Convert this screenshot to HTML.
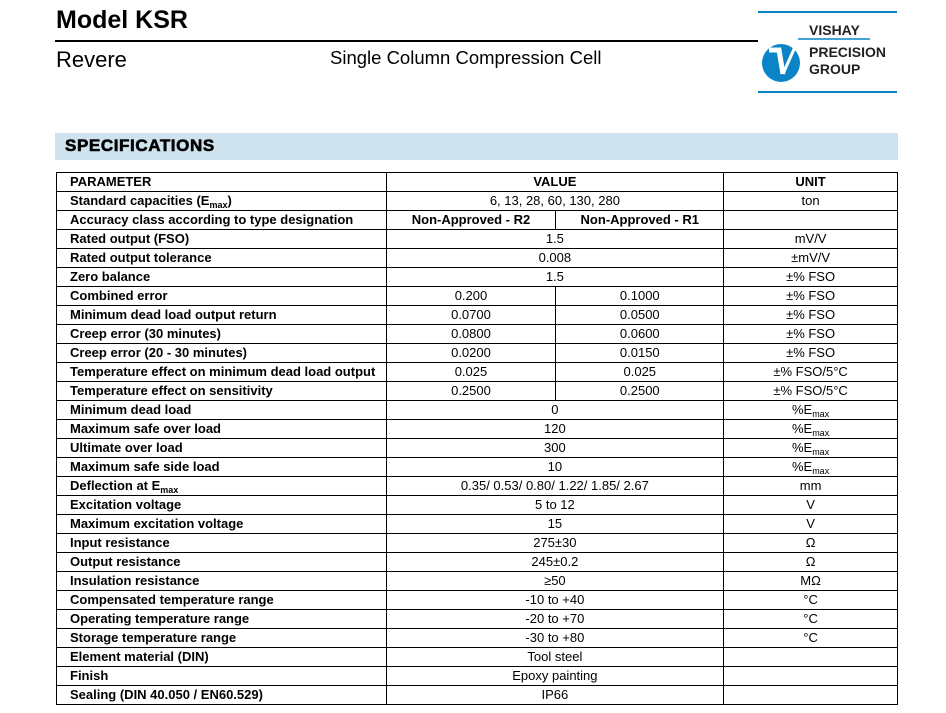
<!DOCTYPE html><html><head><style>
body{margin:0;width:946px;height:713px;background:#fff;font-family:"Liberation Sans",Arial,sans-serif;position:relative;overflow:hidden}
.a{position:absolute}
table{position:absolute;left:56px;top:172px;width:842px;border-collapse:collapse;font-size:13px;color:#000}
td{border:1px solid #000;height:18px;padding:0;line-height:18px;text-align:center}
td.p{text-align:left;padding-left:13px;font-weight:bold}
sub{font-size:9px;vertical-align:-3px;line-height:0}
</style></head><body>
<div class="a" style="left:56px;top:6px;font-size:25px;font-weight:bold">Model KSR</div>
<div class="a" style="left:55px;top:40px;width:703px;height:2px;background:#000"></div>
<div class="a" style="left:56px;top:47px;font-size:22px">Revere</div>
<div class="a" style="left:330px;top:47px;font-size:18.5px">Single Column Compression Cell</div>
<div class="a" style="left:758px;top:11px;width:139px;height:2px;background:#0a84c6"></div>
<div class="a" style="left:758px;top:91px;width:139px;height:2px;background:#0a84c6"></div>
<div class="a" style="left:809px;top:22px;font-size:14px;font-weight:bold;color:#222">VISHAY</div>
<div class="a" style="left:809px;top:44px;font-size:14px;font-weight:bold;color:#222;line-height:17px">PRECISION<br>GROUP</div>
<svg class="a" style="left:760px;top:38px" width="140" height="46"><circle cx="21" cy="25" r="19" fill="#0a84c6"/><path d="M9 12 L19 12 L23 36" stroke="#fff" stroke-width="5" fill="none"/><path d="M23 36 L38 2" stroke="#fff" stroke-width="3" fill="none"/><path d="M38 1 L110 1" stroke="#0a84c6" stroke-width="1.5"/></svg>
<div class="a" style="left:55px;top:133px;width:843px;height:27px;background:#cfe3ef"></div>
<div class="a" style="left:65px;top:136px;font-size:17px;font-weight:900;letter-spacing:0.6px;-webkit-text-stroke:0.6px #000">SPECIFICATIONS</div>
<table>
<colgroup><col style="width:330px"><col style="width:170px"><col style="width:168px"><col style="width:174px"></colgroup>
<tr><td class="p">PARAMETER</td><td colspan="2"><b>VALUE</b></td><td><b>UNIT</b></td></tr>
<tr><td class="p">Standard capacities (E<sub>max</sub>)</td><td colspan="2">6, 13, 28, 60, 130, 280</td><td>ton</td></tr>
<tr><td class="p">Accuracy class according to type designation</td><td><b>Non-Approved - R2</b></td><td><b>Non-Approved - R1</b></td><td></td></tr>
<tr><td class="p">Rated output (FSO)</td><td colspan="2">1.5</td><td>mV/V</td></tr>
<tr><td class="p">Rated output tolerance</td><td colspan="2">0.008</td><td>±mV/V</td></tr>
<tr><td class="p">Zero balance</td><td colspan="2">1.5</td><td>±% FSO</td></tr>
<tr><td class="p">Combined error</td><td>0.200</td><td>0.1000</td><td>±% FSO</td></tr>
<tr><td class="p">Minimum dead load output return</td><td>0.0700</td><td>0.0500</td><td>±% FSO</td></tr>
<tr><td class="p">Creep error (30 minutes)</td><td>0.0800</td><td>0.0600</td><td>±% FSO</td></tr>
<tr><td class="p">Creep error (20 - 30 minutes)</td><td>0.0200</td><td>0.0150</td><td>±% FSO</td></tr>
<tr><td class="p">Temperature effect on minimum dead load output</td><td>0.025</td><td>0.025</td><td>±% FSO/5°C</td></tr>
<tr><td class="p">Temperature effect on sensitivity</td><td>0.2500</td><td>0.2500</td><td>±% FSO/5°C</td></tr>
<tr><td class="p">Minimum dead load</td><td colspan="2">0</td><td>%E<sub>max</sub></td></tr>
<tr><td class="p">Maximum safe over load</td><td colspan="2">120</td><td>%E<sub>max</sub></td></tr>
<tr><td class="p">Ultimate over load</td><td colspan="2">300</td><td>%E<sub>max</sub></td></tr>
<tr><td class="p">Maximum safe side load</td><td colspan="2">10</td><td>%E<sub>max</sub></td></tr>
<tr><td class="p">Deflection at E<sub>max</sub></td><td colspan="2">0.35/ 0.53/ 0.80/ 1.22/ 1.85/ 2.67</td><td>mm</td></tr>
<tr><td class="p">Excitation voltage</td><td colspan="2">5 to 12</td><td>V</td></tr>
<tr><td class="p">Maximum excitation voltage</td><td colspan="2">15</td><td>V</td></tr>
<tr><td class="p">Input resistance</td><td colspan="2">275±30</td><td>Ω</td></tr>
<tr><td class="p">Output resistance</td><td colspan="2">245±0.2</td><td>Ω</td></tr>
<tr><td class="p">Insulation resistance</td><td colspan="2">≥50</td><td>MΩ</td></tr>
<tr><td class="p">Compensated temperature range</td><td colspan="2">-10 to +40</td><td>°C</td></tr>
<tr><td class="p">Operating temperature range</td><td colspan="2">-20 to +70</td><td>°C</td></tr>
<tr><td class="p">Storage temperature range</td><td colspan="2">-30 to +80</td><td>°C</td></tr>
<tr><td class="p">Element material (DIN)</td><td colspan="2">Tool steel</td><td></td></tr>
<tr><td class="p">Finish</td><td colspan="2">Epoxy painting</td><td></td></tr>
<tr><td class="p">Sealing (DIN 40.050 / EN60.529)</td><td colspan="2">IP66</td><td></td></tr>
</table>
</body></html>
